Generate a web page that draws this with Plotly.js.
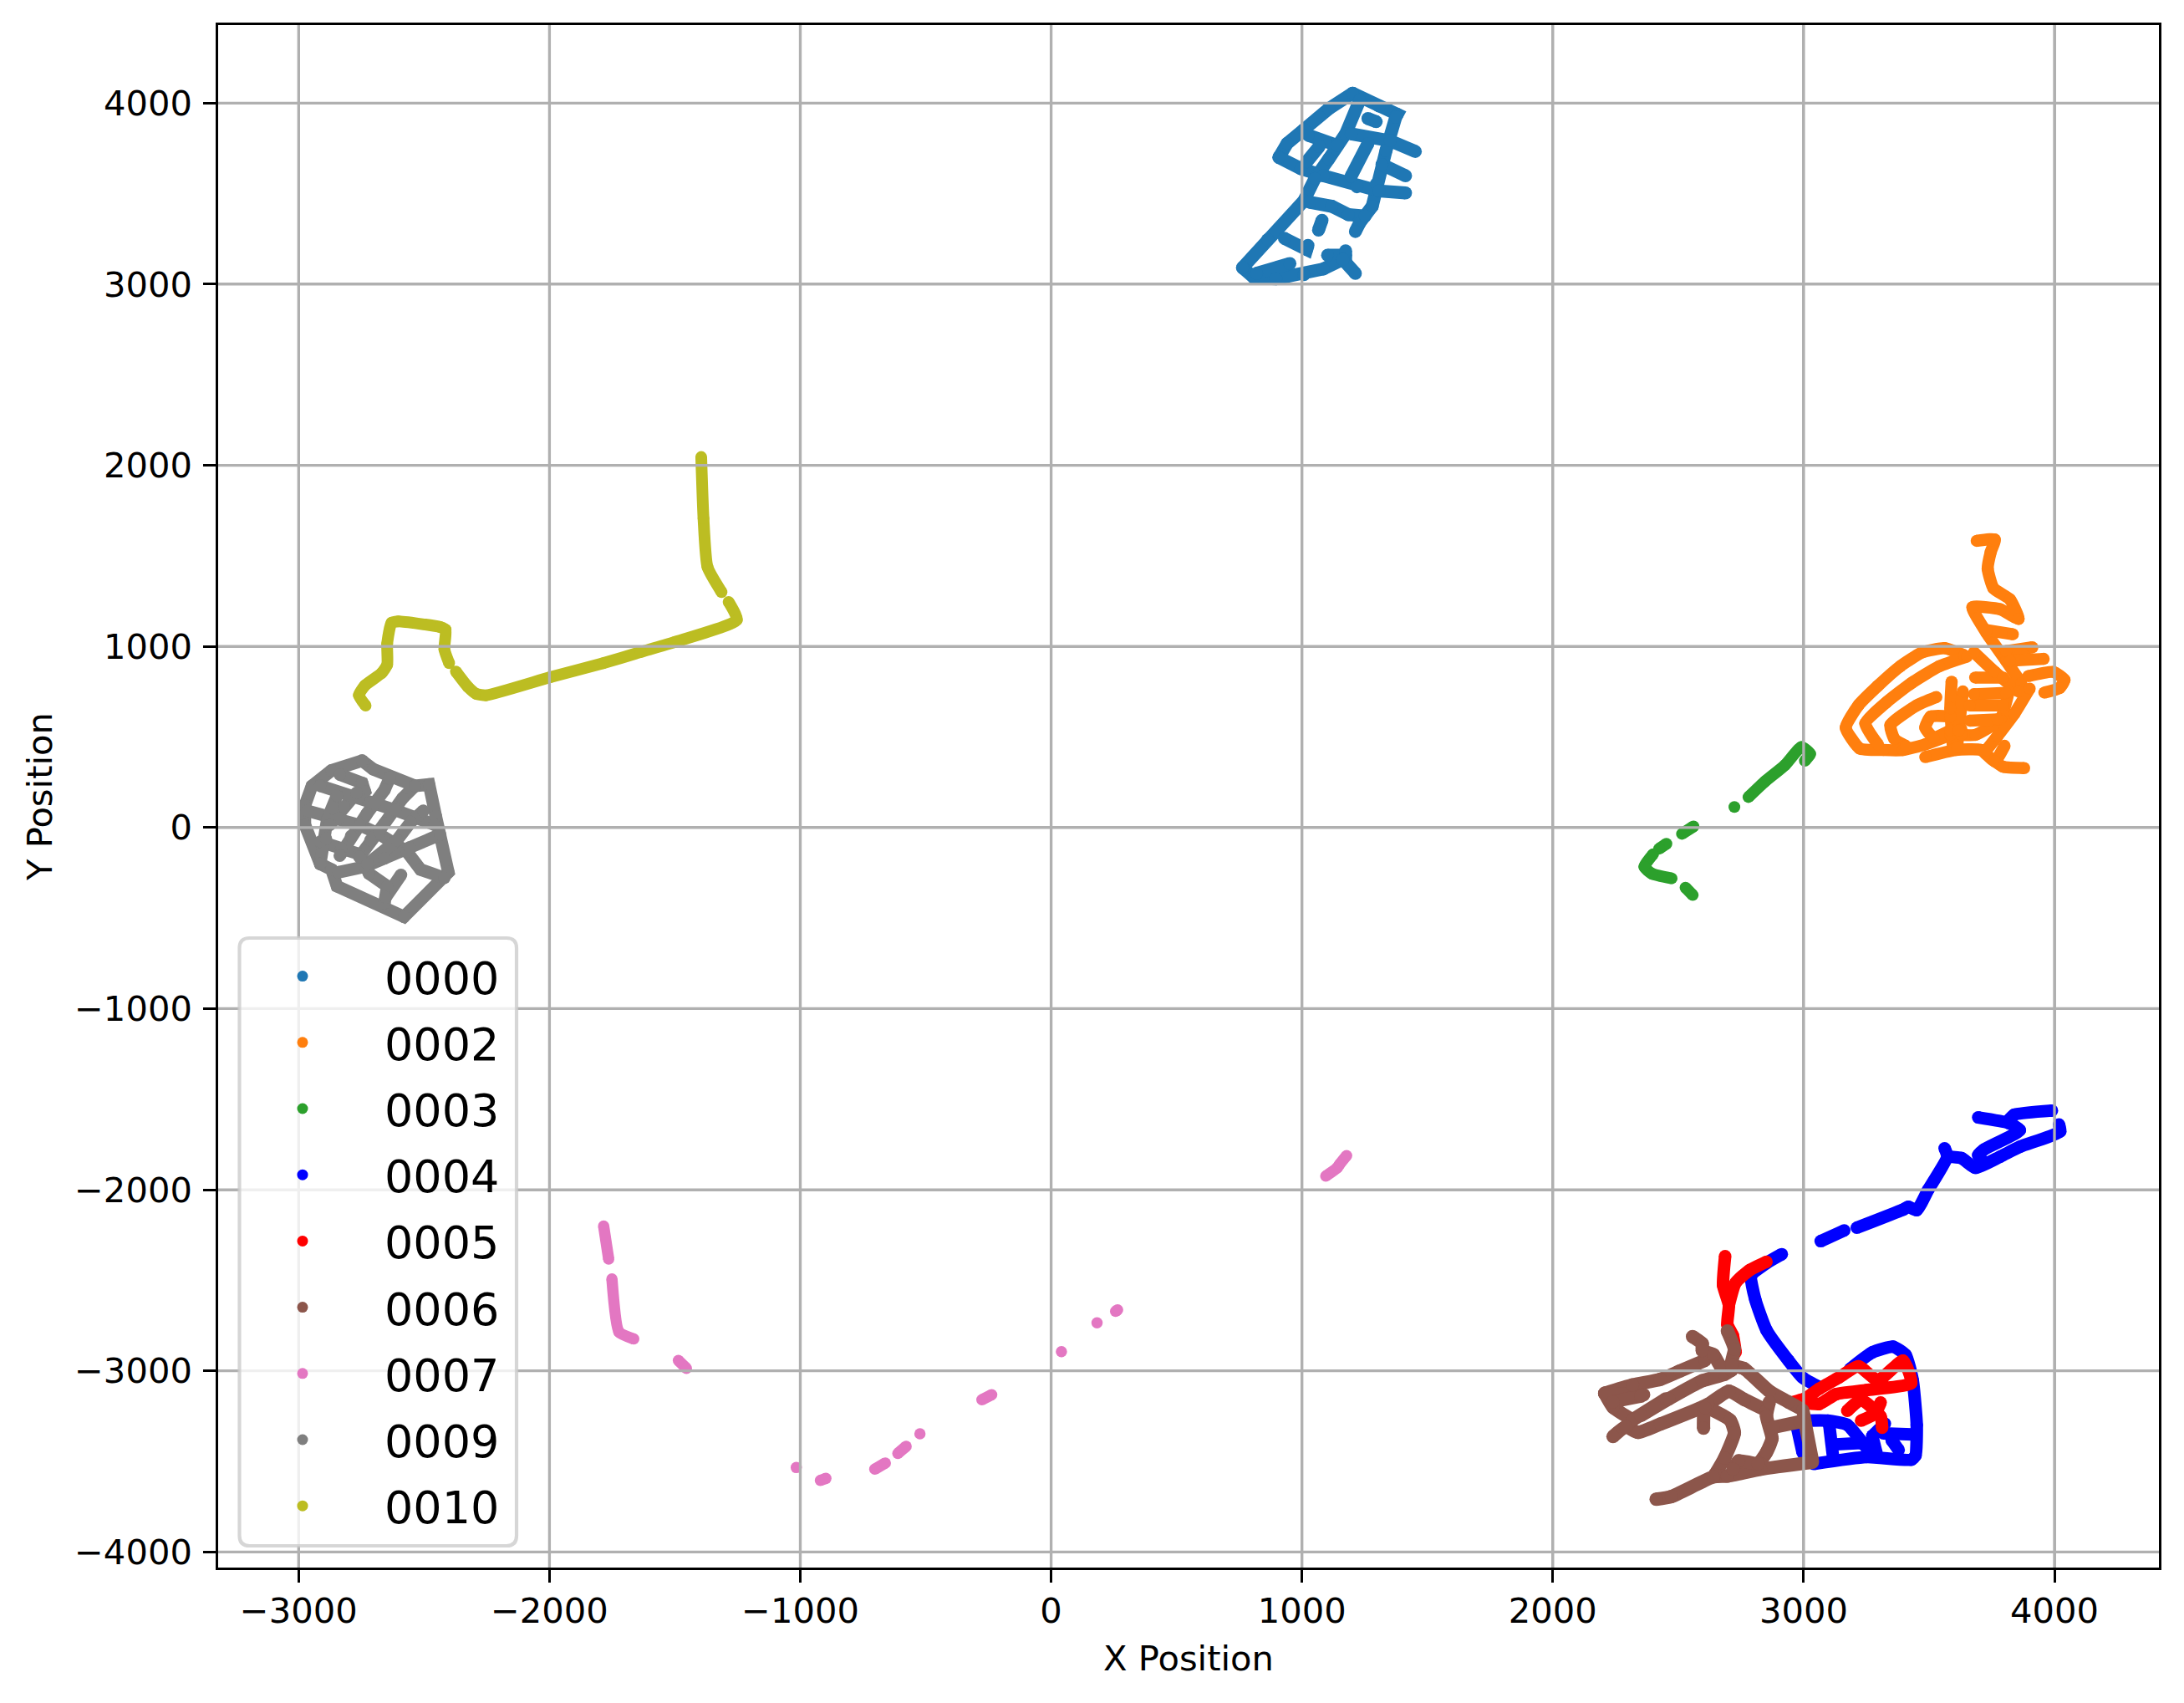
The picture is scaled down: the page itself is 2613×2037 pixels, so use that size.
<!DOCTYPE html>
<html>
<head>
<meta charset="utf-8">
<script src="https://cdn.plot.ly/plotly-3.0.1.min.js"></script>
<style>html,body{margin:0;padding:0;background:#fff}</style>
</head>
<body>
<div id="chart" style="width:2613px;height:2037px"></div>
<script>
const seriesNames = ['0000','0002','0003','0004','0005','0006','0007','0009','0010'];
const seriesColors = ['#1f77b4','#ff7f0e','#2ca02c','#0000ff','#ff0000','#8c564b','#e377c2','#7f7f7f','#bcbd22'];
const seriesWidths = [15.5,14.5,14,15,15,16,13.5,15,14];
const seriesShapes = ['linear','spline','spline','spline','spline','spline','spline','linear','spline'];
const xTicks = [-3000,-2000,-1000,0,1000,2000,3000,4000];
const yTicks = [-4000,-3000,-2000,-1000,0,1000,2000,3000,4000];

const x0000 = [1202,1307,1380,1374,1335,1296,1280,1230,1213,null,1202,1107,1008,941,908,null,908,996,1085,1219,1307,1413,null,1230,1174,1107,1052,1008,863,763,null,1024,1141,null,1196,1352,1452,null,1263,1196,null,1319,1413,null,1030,1119,1185,1252,null,1069,1019,null,1263,1296,null,763,808,896,1008,1085,1163,1213,null,1102,1174,1174,1163,null,819,952,null,930,1019,1024,null,1080,1066];
const y0000 = [4054,3984,3938,3923,3738,3553,3430,3338,3291,null,4054,3969,3854,3777,3700,null,3700,3638,3599,3538,3515,3504,null,4015,3830,3692,3584,3461,3245,3091,null,3823,3766,null,3830,3792,3733,null,3776,3596,null,3661,3599,null,3453,3430,3384,3376,null,3761,3676,null,3915,3897,null,3091,3037,3030,3053,3084,3137,3060,null,3160,3160,3184,3137,null,3060,3114,null,3253,3191,3214,null,3353,3299];

const x0002 = [3690,3762,3746,3734,3757,3823,3857,3784,3673,3729,3807,3868,null,3729,3834,null,3807,3912,null,3823,3957,null,3896,3996,4040,4020,3960,null,3640,3562,3473,3385,3296,3218,3168,3224,3318,3396,3485,3585,3629,null,3651,3540,3429,3329,3246,3296,null,3529,3451,3346,3362,3407,null,3585,3507,3485,3518,3585,null,3485,3607,3707,3762,3801,null,3762,3796,3879,null,3679,3762,3857,null,3901,3840,3773,3729,null,3818,3784,3685,3629,null,3684,3796,null,3679,3807,null,3662,3796,null,3662,3773,null,3590,3585,3596,null,3635,3618,3612];
const y0002 = [1583,1590,1521,1429,1321,1259,1152,1205,1216,1075,921,797,null,1090,1067,null,974,995,null,921,931,null,836,859,815,770,745,null,951,990,967,890,782,674,551,436,428,428,459,512,543,null,944,890,797,690,574,459,null,720,674,566,489,451,null,613,613,551,497,536,null,389,428,428,366,451,null,366,335,328,null,967,859,751,null,767,628,505,428,null,751,597,512,512,null,828,828,null,736,743,null,674,674,null,590,597,null,805,659,428,null,751,536,443];

const x0003 = [2724,null,2780,2845,2926,2991,3026,3005,null,2515,2561,null,2453,2424,null,2400,2365,2395,2474,null,2529,2558];
const y0003 = [113,null,168,253,345,445,407,368,null,-35,6,null,-90,-117,null,-147,-217,-255,-281,null,-332,-373];

const x0004 = [3068,3162,null,3212,3396,3418,3451,3496,3573,3562,null,3573,3629,3685,3784,3862,4023,4018,null,3696,3818,3862,3718,3696,3718,null,3812,3840,3990,null,2913,2852,2791,2807,2852,2940,2996,3063,null,3185,3274,3357,3407,3435,3451,3446,3429,3251,3040,null,3007,3096,3174,3240,3274,null,3102,3118,null,3129,3229,null,3318,3440,null,3351,3379,null,3274,3290,null,3274,3324,null,2974,2996];
const y0004 = [-2284,-2225,null,-2210,-2110,-2094,-2113,-2002,-1817,-1771,null,-1817,-1825,-1879,-1817,-1763,-1678,-1640,null,-1601,-1632,-1671,-1779,-1809,-1848,null,-1625,-1586,-1563,null,-2356,-2405,-2475,-2605,-2775,-2944,-3037,-3090,null,-2990,-2898,-2867,-2913,-3052,-3298,-3468,-3491,-3476,-3514,null,-3275,-3275,-3298,-3406,-3468,null,-3298,-3483,null,-3406,-3399,null,-3345,-3352,null,-3383,-3437,null,-3360,-3452,null,-3360,-3291,null,-3314,-3452];

const x0005 = [2687,2679,2702,2696,2718,2729,null,2852,2785,2729,2702,null,2952,3007,3063,3140,3218,3296,3396,3429,3251,3129,3063,2996,null,3174,3229,3307,3313,null,3229,3285,3307];
const y0005 = [-2367,-2528,-2636,-2744,-2806,-2898,null,-2398,-2444,-2513,-2636,null,-3175,-3152,-3098,-3037,-2975,-3052,-2944,-3067,-3106,-3129,-3183,-3175,null,-3221,-3160,-3252,-3314,null,-3275,-3237,-3175];

const x0006 = [2207,2318,2429,2507,2607,null,2207,2240,2318,null,2207,2362,null,2240,2351,null,2318,2451,null,2240,2290,2340,2429,2618,2702,2763,2852,null,2351,2462,2596,2685,2713,null,2601,2607,2707,2724,2685,2646,null,2412,2473,2640,2696,2829,3035,null,2557,2596,2596,2641,2668,2713,null,2696,2724,2713,2763,2863,2940,2996,3007,3035,null,2863,2852,2874,2852,2818,2741,2718,null,2879,2985];
const y0006 = [-3124,-3078,-3047,-3001,-2942,null,-3124,-3201,-3271,null,-3124,-3132,null,-3170,-3140,null,-3271,-3155,null,-3363,-3309,-3340,-3294,-3186,-3112,-3158,-3219,null,-3247,-3155,-3055,-3019,-2996,null,-3317,-3204,-3273,-3343,-3481,-3574,null,-3709,-3694,-3586,-3581,-3543,-3505,null,-2811,-2850,-2888,-2911,-2973,-2996,null,-2780,-2880,-2965,-2988,-3112,-3173,-3219,-3296,-3497,null,-3173,-3250,-3373,-3450,-3512,-3497,-3543,null,-3312,-3281];

const x0007 = [-1784,-1764,null,-1751,-1723,-1664,null,-1486,-1454,null,-1016,null,-920,-898,null,-703,-661,null,-611,-578,null,-523,null,-276,-237,null,41,null,183,null,257,265,null,1095,1140,1150,1178];
const y0007 = [-2201,-2383,null,-2493,-2786,-2824,null,-2943,-2986,null,-3534,null,-3605,-3594,null,-3543,-3509,null,-3456,-3417,null,-3348,null,-3160,-3132,null,-2894,null,-2735,null,-2671,-2663,null,-1925,-1880,-1860,-1812];

const x0009 = [-2747,-2703,-2536,-2480,-2453,-2403,-2580,-2847,-2869,-2914,-2975,-2975,-2947,-2869,-2747,null,-2914,-2758,-2614,-2458,null,-2964,-2841,-2756,-2680,-2569,-2514,-2419,null,-2914,-2830,-2758,-2719,-2647,-2658,null,-2841,-2736,-2658,-2558,-2436,null,-2592,-2653,null,-2836,-2747,-2736,-2758,null,-2914,-2891,-2886,-2847,null,-2836,-2791,-2728,-2658,-2636,null,-2875,-2819,-2769,null,-2758,-2714,-2658,-2586,-2536,null,-2725,-2608,-2553,-2503];
const y0009 = [369,322,230,238,61,-247,-493,-324,-232,-201,15,122,230,315,369,null,230,169,96,15,null,92,49,13,-35,-132,-232,-278,null,-78,-116,-147,-255,-324,-416,null,-247,-216,-170,-111,-39,null,-262,-385,null,292,246,199,169,null,-201,-62,45,176,null,-155,-47,76,207,276,null,15,115,192,null,-162,-70,22,161,230,null,-201,-70,30,92];

const x0010 = [-2733,-2760,-2736,-2669,-2647,-2647,-2630,-2603,-2436,-2414,-2419,-2400,null,-2373,-2325,-2292,-2253,-1997,-1786,-1636,-1503,-1253,-1286,null,-1314,-1370,-1386,-1395];
const y0010 = [673,730,784,853,899,1015,1130,1138,1107,1092,984,907,null,861,776,738,730,830,907,969,1023,1146,1246,null,1300,1438,1707,2046];

const xSeries = [x0000,x0002,x0003,x0004,x0005,x0006,x0007,x0009,x0010];
const ySeries = [y0000,y0002,y0003,y0004,y0005,y0006,y0007,y0009,y0010];

const W = 2613, H = 2037;
const L = 261, R = 2583, T = 30, B = 1875;
const px = v => (v - L) / (R - L);
const py = v => 1 - (v - T) / (B - T);

const traces = [];
seriesNames.forEach((name, i) => {
  const group = 's' + name;
  traces.push({type:'scatter', mode:'lines+markers', x:xSeries[i], y:ySeries[i], name:name, legendgroup:group,
    showlegend:false, hoverinfo:'skip',
    line:{color:seriesColors[i], width:seriesWidths[i], shape:seriesShapes[i], smoothing:0.5},
    marker:{color:seriesColors[i], size:seriesWidths[i], line:{width:0}}});
  traces.push({type:'scatter', mode:'markers', x:[null], y:[null], name:name, legendgroup:group,
    showlegend:true, marker:{color:seriesColors[i], size:13, line:{width:0}}});
});

const gridShapes = [
  ...xTicks.map(v => ({type:'line', layer:'above', xref:'x', yref:'paper', x0:v, x1:v, y0:0, y1:1, line:{color:'#b0b0b0', width:3.33}})),
  ...yTicks.map(v => ({type:'line', layer:'above', xref:'paper', yref:'y', x0:0, x1:1, y0:v, y1:v, line:{color:'#b0b0b0', width:3.33}}))
];
const bx0 = 286.5, bx1 = 618, by0 = 1122, by1 = 1849, r = 12;
const legendBox = {type:'path', layer:'above', xref:'paper', yref:'paper',
  fillcolor:'rgba(255,255,255,0.8)', line:{color:'rgba(204,204,204,0.8)', width:4.2},
  path:`M ${px(bx0+r)} ${py(by0)} L ${px(bx1-r)} ${py(by0)} Q ${px(bx1)} ${py(by0)} ${px(bx1)} ${py(by0+r)} L ${px(bx1)} ${py(by1-r)} Q ${px(bx1)} ${py(by1)} ${px(bx1-r)} ${py(by1)} L ${px(bx0+r)} ${py(by1)} Q ${px(bx0)} ${py(by1)} ${px(bx0)} ${py(by1-r)} L ${px(bx0)} ${py(by0+r)} Q ${px(bx0)} ${py(by0)} ${px(bx0+r)} ${py(by0)} Z`};

const axisCommon = {
  showline:true, mirror:true, linecolor:'#000', linewidth:3.33,
  ticks:'outside', ticklen:14.6, tickwidth:3.33, tickcolor:'#000',
  showgrid:true, gridcolor:'#b0b0b0', gridwidth:3.33, zeroline:false,
  tickfont:{family:'DejaVu Sans', size:41.67, color:'#000'},
  tickmode:'array', automargin:false
};

const layout = {
  width:W, height:H, paper_bgcolor:'#fff', plot_bgcolor:'#fff',
  margin:{l:L, r:W-R, t:T, b:H-B, pad:0},
  font:{family:'DejaVu Sans', color:'#000'},
  showlegend:true,
  xaxis:{...axisCommon, range:[-3320.9,4416.5], tickvals:xTicks, ticklabelstandoff:-2,
    title:{text:'X Position', font:{family:'DejaVu Sans', size:41.67, color:'#000'}, standoff:20}},
  yaxis:{...axisCommon, range:[-4086.3,4430.7], tickvals:yTicks, ticklabelstandoff:5,
    title:{text:'Y Position', font:{family:'DejaVu Sans', size:41.67, color:'#000'}, standoff:14}},
  legend:{x:px(264), y:py(1126), xanchor:'left', yanchor:'top', bgcolor:'rgba(0,0,0,0)', borderwidth:0,
    font:{family:'DejaVu Sans', size:54, color:'#000'}, itemwidth:186, itemsizing:'trace',
    traceorder:'grouped', tracegroupgap:6, itemclick:false, itemdoubleclick:false},
  shapes:[...gridShapes, legendBox]
};
Plotly.newPlot('chart', traces, layout, {displayModeBar:false, responsive:false});
</script>
</body>
</html>
